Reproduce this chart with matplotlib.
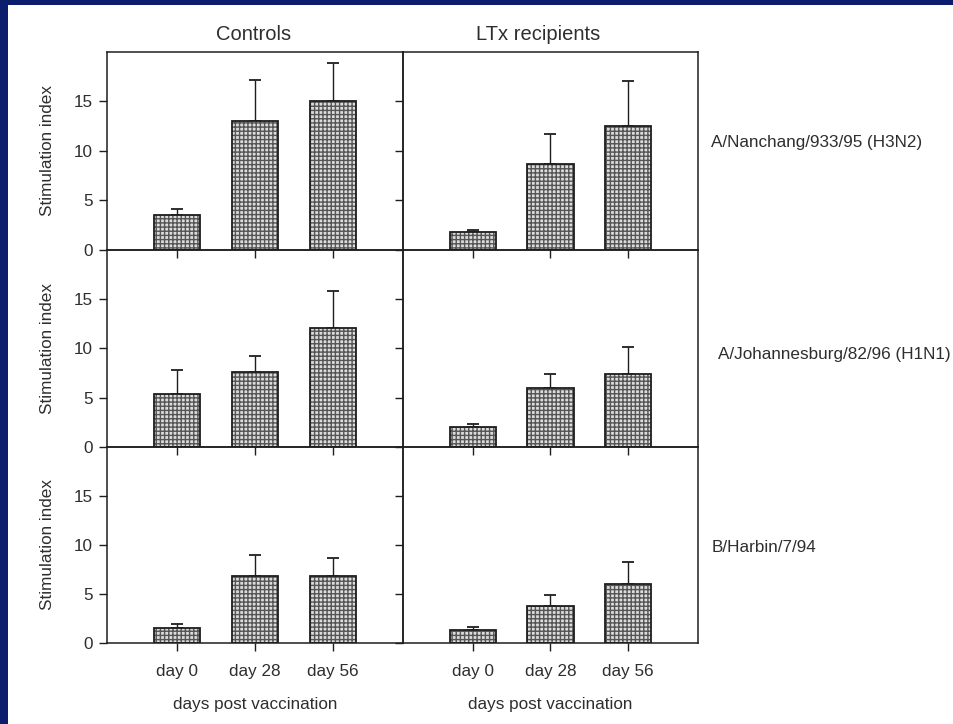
import matplotlib.pyplot as plt
from matplotlib.patches import Rectangle

# Stimulation index (mean and upper SEM)
days = ["day 0", "day 28", "day 56"]
groups = ["Controls", "LTx recipients"]
strains = ["A/Nanchang/933/95 (H3N2)", "A/Johannesburg/82/96 (H1N1)", "B/Harbin/7/94"]

nanchang_ctrl = [3.45, 13.0, 15.0]
nanchang_ctrl_err = [0.65, 4.2, 3.9]
nanchang_ltx = [1.8, 8.7, 12.5]
nanchang_ltx_err = [0.15, 2.95, 4.6]

johannesburg_ctrl = [5.35, 7.6, 12.1]
johannesburg_ctrl_err = [2.45, 1.65, 3.7]
johannesburg_ltx = [2.0, 6.0, 7.35]
johannesburg_ltx_err = [0.35, 1.35, 2.75]

harbin_ctrl = [1.55, 6.8, 6.8]
harbin_ctrl_err = [0.42, 2.15, 1.85]
harbin_ltx = [1.35, 3.75, 6.05]
harbin_ltx_err = [0.25, 1.1, 2.25]

means = [[nanchang_ctrl, nanchang_ltx],
         [johannesburg_ctrl, johannesburg_ltx],
         [harbin_ctrl, harbin_ltx]]
errors = [[nanchang_ctrl_err, nanchang_ltx_err],
          [johannesburg_ctrl_err, johannesburg_ltx_err],
          [harbin_ctrl_err, harbin_ltx_err]]

W, H = 954, 724
plt.rcParams['font.family'] = ['Liberation Sans', 'DejaVu Sans']
plt.rcParams['hatch.linewidth'] = 1.0
text_col = '#2e2e2e'
line_col = '#1e1e1e'

fig = plt.figure(figsize=(W / 100, H / 100), dpi=100, facecolor='#0c1d6e')


def fx(px):
    return px / W


def fy(py):
    return 1 - py / H


# white "slide" area inside the blue frame
fig.patches.append(Rectangle((fx(8), 0), 1 - fx(8), fy(5), transform=fig.transFigure,
                             facecolor='white', edgecolor='none', zorder=-10))

col_left = [107, 403]
col_right = [403, 698]
row_edges = [52, 249.5, 447, 643]
x = list(range(len(days)))

for r in range(3):
    for c in range(2):
        left, right = col_left[c], col_right[c]
        top, bottom = row_edges[r], row_edges[r + 1]
        ax = fig.add_axes([fx(left), fy(bottom), fx(right - left), (bottom - top) / H])
        ax.set_facecolor('none')
        ax.set_zorder(5)

        vals = means[r][c]
        errs = errors[r][c]
        # hatched fill, then a crisp outline on top
        ax.bar(x, vals, width=0.6, color='#dcdcdc', edgecolor='#555555', hatch='++++',
               linewidth=0, zorder=2)
        ax.bar(x, vals, width=0.6, fill=False, edgecolor=line_col, linewidth=1.3, zorder=3)
        ax.errorbar(x, vals, yerr=[[0] * len(errs), errs], fmt='none', ecolor=line_col,
                    elinewidth=1.0, capsize=4.5, capthick=1.3, zorder=1)

        ax.set_xlim(-0.9, 2.9)
        ax.set_ylim(0, 20)
        ax.set_yticks([0, 5, 10, 15])
        ax.set_xticks(x)
        for sp in ax.spines.values():
            sp.set_color(line_col)
            sp.set_linewidth(1.1)
        ax.tick_params(direction='out', length=6, width=1, color=line_col,
                       labelsize=12.3, labelcolor=text_col, pad=4)

        if c == 0:
            ax.set_ylabel("Stimulation index", fontsize=12.3, color=text_col)
            ax.yaxis.set_label_coords(-0.175, 0.5)
        else:
            ax.set_yticklabels([])

        if r == 2:
            ax.set_xticklabels(days)
            ax.tick_params(axis='x', pad=9)
            ax.set_xlabel("days post vaccination", fontsize=12.3, color=text_col, labelpad=13)
        else:
            ax.set_xticklabels([])

# column headings
fig.text(fx(254), fy(35), groups[0], fontsize=14.5, color=text_col, ha='center', va='center')
fig.text(fx(538), fy(35), groups[1], fontsize=14.5, color=text_col, ha='center', va='center')

# strain labels on the right
fig.text(fx(711), fy(143), strains[0], fontsize=12.3, color=text_col, ha='left', va='center')
fig.text(fx(718), fy(355), strains[1], fontsize=12.3, color=text_col, ha='left', va='center')
fig.text(fx(712), fy(547), strains[2], fontsize=12.3, color=text_col, ha='left', va='center')

fig.savefig("out.png", dpi=100, facecolor=fig.get_facecolor())
